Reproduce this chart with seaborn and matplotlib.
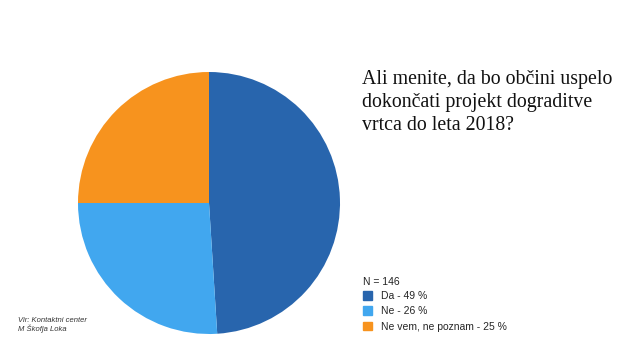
import matplotlib.pyplot as plt
import matplotlib.patches as mpatches
import seaborn as sns

# data
labels = ["Da - 49 %", "Ne - 26 %", "Ne vem, ne poznam - 25 %"]
values = [49, 26, 25]
colors = ["#2865ad", "#41a7ef", "#f7931e"]
n_text = "N = 146"
title = "Ali menite, da bo občini uspelo\ndokončati projekt dograditve\nvrtca do leta 2018?"
source = "Vir: Kontaktni center\nM Škofja Loka"

sns.set_theme(style="white")
plt.rcParams['font.family'] = ['Liberation Sans', 'DejaVu Sans']

W, H = 640, 360
fig = plt.figure(figsize=(6.4, 3.6), dpi=100)
fig.patch.set_facecolor("white")

# pie axes: centre (209, 203), radius 131 px
cx, cy, r = 209, 203, 131
ax = fig.add_axes([(cx - r) / W, (H - cy - r) / H, 2 * r / W, 2 * r / H])
ax.pie(values, colors=colors, startangle=90, counterclock=False,
       radius=1, wedgeprops=dict(linewidth=0))
ax.set_xlim(-1, 1)
ax.set_ylim(-1, 1)
ax.set_aspect("equal")
ax.axis("off")

fig.text(362 / W, 1 - 70 / H, title, ha="left", va="top",
         fontsize=14.3, family=["Liberation Serif", "DejaVu Serif"],
         linespacing=1.3, color="#111111")

fig.text(363 / W, 1 - 282 / H, n_text, ha="left", va="center", fontsize=7.5, color="#222222")
handles = [mpatches.Patch(color=c, label=l) for c, l in zip(colors, labels)]
fig.legend(handles=handles, loc="upper left", bbox_to_anchor=(361 / W, 1 - 289 / H),
           frameon=False, fontsize=7.5, handlelength=0.9, handleheight=0.9,
           handletextpad=0.8, labelspacing=0.5, borderaxespad=0, borderpad=0.2)

fig.text(18 / W, 1 - 325 / H, source, ha="left", va="center", fontsize=5.5,
         style="italic", color="#333333", linespacing=1.2)

fig.savefig("out.png", dpi=100, facecolor="white")
